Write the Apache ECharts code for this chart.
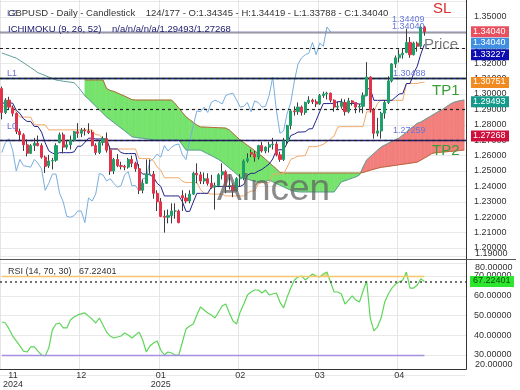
<!DOCTYPE html>
<html><head><meta charset="utf-8">
<script src="https://cdn.jsdelivr.net/npm/echarts/dist/echarts.min.js"></script>
<style>html,body{margin:0;padding:0;background:#fff;}#c{width:520px;height:390px;}</style>
</head><body><div id="c"></div>
<script>
// ---- categories (trading days) ----
const monthDays = [
  ['2024-11', [6,7,8,11,12,13,14,15,18,19,20,21,22,25,26,27,29]],
  ['2024-12', [2,3,4,5,6,9,10,11,12,13,16,17,18,19,20,23,24,26,27,30,31]],
  ['2025-01', [2,3,6,7,8,9,10,13,14,15,16,17,21,22,23,24,27,28,29,30,31]],
  ['2025-02', [3,4,5,6,7,10,11,12,13,14,18,19,20,21,24,25,26,27,28]],
  ['2025-03', [3,4,5,6,7,10,11,12,13,14,17,18,19,20,21,24,25,26,27,28,31]],
  ['2025-04', [1,2,3,4,7,8,9,10,11,14,15,16,17,22,23,24,25,28,29,30]],
  ['2025-05', [1,2,5,6,7,8,9,12,13,14]]
];
const dates = [];
monthDays.forEach(([m, ds]) => ds.forEach(d => dates.push(m + '-' + String(d).padStart(2, '0'))));

// ---- OHLC ----
const open = [1.3035,1.2880,1.2960,1.2910,1.2875,1.2757,1.2735,1.2670,1.2615,1.2665,1.2680,1.2665,1.2590,1.2535,1.2565,1.2570,1.2685,
1.2735,1.2655,1.2670,1.2700,1.2755,1.2745,1.2765,1.2760,1.2750,1.2665,1.2620,1.2685,1.2710,1.2635,1.2500,1.2575,1.2535,1.2530,1.2525,1.2575,1.2550,
1.2515,1.2375,1.2420,1.2480,1.2480,1.2355,1.2300,1.2205,1.2200,1.2210,1.2240,1.2240,1.2340,1.2325,1.2305,1.2350,1.2485,1.2475,1.2435,1.2450,1.2420,
1.2395,1.2405,1.2475,1.2495,1.2405,1.2405,1.2370,1.2450,1.2455,1.2565,1.2620,1.2610,1.2590,1.2665,1.2630,1.2655,1.2670,1.2675,1.2605,
1.2575,1.2695,1.2795,1.2890,1.2885,1.2915,1.2880,1.2945,1.2960,1.2950,1.2935,1.2990,1.3000,1.3005,1.2960,1.2915,1.2920,1.2945,1.2885,1.2955,1.2945,
1.2915,1.2920,1.2990,1.3110,1.2895,1.2745,1.2760,1.2875,1.2945,1.3085,1.3195,1.3235,1.3255,1.3270,1.3335,1.3255,1.3330,1.3310,1.34345];
const high = [1.3048,1.2973,1.2982,1.2925,1.2880,1.2775,1.2745,1.2705,1.2675,1.2715,1.2730,1.2680,1.2600,1.2605,1.2585,1.2680,1.2750,
1.2750,1.2700,1.2730,1.2760,1.2811,1.2780,1.2780,1.2810,1.2765,1.2680,1.2700,1.2725,1.2750,1.2660,1.2585,1.2610,1.2560,1.2540,1.2585,1.2600,1.2560,
1.2545,1.2445,1.2575,1.2575,1.2500,1.2375,1.2325,1.2245,1.2250,1.2290,1.2290,1.2250,1.2375,1.2355,1.2375,1.2495,1.2550,1.2495,1.2490,1.2485,1.2475,
1.2425,1.2485,1.2550,1.2505,1.2480,1.2420,1.2460,1.2480,1.2575,1.2615,1.2640,1.2630,1.2670,1.2690,1.2660,1.2690,1.2715,1.2690,1.2625,
1.2715,1.2800,1.2900,1.2920,1.2945,1.2925,1.2950,1.2985,1.2970,1.2965,1.3000,1.3015,1.3015,1.3010,1.2965,1.2950,1.2970,1.2965,1.2975,1.2960,1.2945,
1.2935,1.3010,1.3207,1.3115,1.2910,1.2845,1.2885,1.2960,1.3115,1.3200,1.3250,1.3290,1.3295,1.3425,1.3370,1.3340,1.3340,1.3445,1.34419];
const low = [1.2835,1.2870,1.2900,1.2855,1.2740,1.2700,1.2630,1.2595,1.2610,1.2630,1.2660,1.2580,1.2487,1.2520,1.2510,1.2560,1.2680,
1.2615,1.2640,1.2640,1.2690,1.2715,1.2720,1.2730,1.2740,1.2660,1.2605,1.2610,1.2665,1.2620,1.2475,1.2480,1.2525,1.2510,1.2505,1.2515,1.2525,1.2495,
1.2350,1.2355,1.2415,1.2475,1.2320,1.2240,1.2200,1.2100,1.2160,1.2160,1.2190,1.2160,1.2240,1.2290,1.2290,1.2345,1.2420,1.2415,1.2415,1.2405,1.2385,
1.2249,1.2395,1.2445,1.2355,1.2380,1.2330,1.2365,1.2400,1.2440,1.2555,1.2590,1.2560,1.2575,1.2620,1.2615,1.2620,1.2640,1.2595,1.2560,
1.2565,1.2670,1.2770,1.2860,1.2865,1.2860,1.2865,1.2935,1.2935,1.2915,1.2930,1.2975,1.2965,1.2945,1.2885,1.2900,1.2905,1.2860,1.2875,1.2925,1.2875,
1.2880,1.2875,1.2985,1.2880,1.2710,1.2725,1.2710,1.2840,1.2935,1.3075,1.3170,1.3205,1.3230,1.3265,1.3235,1.3250,1.3275,1.3300,1.33788];
const close = [1.2880,1.2960,1.2915,1.2875,1.2757,1.2735,1.2670,1.2615,1.2665,1.2680,1.2665,1.2590,1.2530,1.2565,1.2568,1.2665,1.2735,
1.2655,1.2670,1.2700,1.2755,1.2745,1.2765,1.2760,1.2750,1.2665,1.2620,1.2685,1.2710,1.2635,1.2500,1.2575,1.2535,1.2530,1.2525,1.2575,1.2550,1.2515,
1.2375,1.2420,1.2480,1.2480,1.2355,1.2300,1.2205,1.2200,1.2210,1.2240,1.2240,1.2165,1.2325,1.2305,1.2350,1.2485,1.2475,1.2435,1.2450,1.2420,1.2395,
1.2405,1.2475,1.2495,1.2405,1.2405,1.2370,1.2450,1.2455,1.2565,1.2580,1.2610,1.2590,1.2665,1.2630,1.2655,1.2670,1.2675,1.2605,1.2575,
1.2695,1.2795,1.2890,1.2885,1.2915,1.2880,1.2945,1.2960,1.2950,1.2935,1.2990,1.3000,1.3005,1.2960,1.2915,1.2920,1.2945,1.2885,1.2955,1.2945,1.2915,
1.2920,1.2990,1.3110,1.2895,1.2745,1.2760,1.2875,1.2945,1.3085,1.3195,1.3235,1.3255,1.3265,1.3335,1.3255,1.3330,1.3310,1.3435,1.34040];

// ---- Ichimoku (9, 26, 52) ----
const tenkan = [1.2941,1.2941,1.2941,1.2941,1.2894,1.2874,1.2839,1.2822,1.2822,1.2789,1.2789,1.2753,1.2684,1.2631,1.2616,1.2609,1.2619,
1.2619,1.2619,1.2619,1.2624,1.2661,1.2661,1.2686,1.2713,1.2713,1.2708,1.2708,1.2708,1.2708,1.2643,1.2643,1.2643,1.2620,1.2613,1.2613,1.2613,1.2613,
1.2505,1.2480,1.2480,1.2475,1.2460,1.2420,1.2400,1.2338,1.2338,1.2338,1.2338,1.2338,1.2300,1.2238,1.2238,1.2298,1.2355,1.2355,1.2355,1.2355,1.2395,
1.2400,1.2400,1.2400,1.2400,1.2400,1.2400,1.2400,1.2400,1.2412,1.2473,1.2485,1.2485,1.2500,1.2510,1.2528,1.2545,1.2578,1.2635,1.2638,
1.2638,1.2680,1.2730,1.2740,1.2753,1.2753,1.2755,1.2773,1.2775,1.2828,1.2885,1.2938,1.2938,1.2938,1.2940,1.2950,1.2950,1.2938,1.2938,1.2938,1.2938,
1.2935,1.2935,1.3034,1.3034,1.2959,1.2959,1.2959,1.2959,1.2959,1.2959,1.2980,1.3000,1.3003,1.3068,1.3068,1.3133,1.3180,1.3260,1.3323];
const kijun = [1.2920,1.2920,1.2920,1.2920,1.2883,1.2850,1.2850,1.2850,1.2850,1.2800,1.2800,1.2800,1.2800,
1.2767,1.2767,1.2767,1.2767,1.2767,1.2767,1.2767,1.2767,1.2767,1.2767,1.2767,1.2767,1.2767,
1.2735,1.2735,1.2706,1.2684,1.2643,1.2643,1.2643,1.2643,1.2643,1.2643,1.2643,1.2643,
1.2581,1.2581,1.2581,1.2581,1.2566,1.2526,1.2506,1.2456,1.2456,1.2456,1.2456,1.2456,1.2433,1.2425,1.2425,1.2425,1.2425,
1.2380,1.2355,1.2355,1.2350,1.2350,1.2350,1.2350,1.2338,1.2338,1.2338,1.2338,1.2338,1.2338,1.2358,1.2370,1.2370,1.2415,
1.2425,1.2425,1.2425,1.2478,1.2482,1.2482,1.2482,1.2525,1.2575,1.2585,1.2597,1.2597,1.2600,1.2658,1.2658,1.2658,1.2665,
1.2673,1.2690,1.2708,1.2728,1.2785,1.2788,1.2788,1.2788,1.2788,1.2788,1.2788,1.2788,1.2884,1.2884,1.2886,1.2939,
1.2959,1.2959,1.2959,1.2959,1.2959,1.2959,1.2959,1.3068,1.3068,1.3068,1.3068,1.3075,1.3075];
const senkouA = [1.3266,1.3258,1.3250,1.3241,1.3233,1.3218,1.3203,1.3187,1.3171,1.3156,
1.3138,1.3129,1.3120,1.3110,1.3101,1.3091,1.3087,1.3083,1.3080,1.3077,
1.3073,1.3050,1.3020,1.2988,1.2967,1.2944,1.2921,1.2898,1.2874,1.2851,
1.2833,1.2815,1.2797,1.2779,1.2761,1.2743,1.2723,1.2718,1.2715,1.2712,
1.2709,1.2706,1.2703,1.2701,1.2701,1.2701,1.2701,1.2701,1.2701,1.2701,
1.2669,1.2636,1.2636,1.2636,1.2636,1.2636,1.2624,1.2612,1.2600,1.2588,
1.2575,1.2559,1.2539,1.2520,1.2500,1.2480,1.2461,1.2454,1.2447,1.2440,
1.2433,1.2426,1.2425,1.2433,1.2441,1.2430,1.2419,1.2408,1.2397,1.2386,
1.2375,1.2369,1.2365,1.2364,1.2364,1.2364,1.2364,1.2364,1.2364,1.2364,
1.2364,1.2364,1.2364,1.2397,1.2429,1.2437,1.2445,1.2454,1.2462,1.2474,
1.2525,1.2572,1.2593,1.2614,1.2635,1.2656,1.2668,1.2680,1.2692,1.2704,
1.2714,1.2733,1.2752,1.2771,1.2790,1.2809,1.2818,1.2832,1.2846,1.2860,
1.2874,1.2888,1.2900,1.2916,1.2932,1.2945,1.2952,1.2957,1.2961];
const senkouB = [null,null,null,null,null,null,null,null,null,null,null,null,null,null,null,null,null,null,null,null,null,null,null,
1.3091,1.3091,1.3091,1.3091,1.3091,1.3091,1.3036,
1.3023,1.3017,1.3007,1.2996,1.2986,1.2975,1.2963,1.2961,1.2961,1.2961,
1.2961,1.2961,1.2961,1.2961,1.2961,1.2961,1.2961,1.2961,1.2937,1.2909,
1.2880,1.2851,1.2834,1.2816,1.2798,1.2786,1.2785,1.2784,1.2783,1.2782,
1.2781,1.2780,1.2779,1.2766,1.2744,1.2722,1.2701,1.2684,1.2667,1.2650,
1.2632,1.2612,1.2597,1.2576,1.2555,1.2534,1.2514,1.2490,1.2487,1.2487,
1.2487,1.2487,1.2487,1.2487,1.2487,1.2487,1.2487,1.2487,1.2487,1.2487,
1.2487,1.2487,1.2487,1.2487,1.2487,1.2487,1.2487,1.2487,1.2487,1.2487,
1.2490,1.2498,1.2505,1.2512,1.2518,1.2524,1.2527,1.2530,1.2534,1.2537,
1.2541,1.2544,1.2547,1.2551,1.2554,1.2558,1.2571,1.2584,1.2598,1.2613,
1.2619,1.2621,1.2623,1.2625,1.2627,1.2629,1.2631,1.2634,1.2636];

// ---- RSI (14) ----
const rsi = [46.7,46.2,43.2,39.6,37.1,34.6,32.0,31.5,34.1,34.1,32.0,30.0,29.5,33.5,42.7,45.7,46.2,43.7,43.7,47.7,
49.2,50.3,50.8,51.3,49.7,48.2,46.2,48.7,45.2,41.6,39.6,38.6,39.1,39.6,41.1,40.1,38.6,40.1,41.6,37.6,
31.5,34.6,36.1,37.1,32.5,30.0,31.5,31.0,30.0,30.0,36.6,43.2,44.7,45.7,50.3,54.3,52.8,51.3,50.3,48.7,
51.8,54.8,55.8,51.3,47.2,45.7,51.8,55.8,60.4,61.9,62.9,62.9,61.4,62.9,60.4,60.9,61.4,56.8,53.8,59.4,
63.9,68.0,69.5,70.0,68.0,69.5,71.0,70.0,69.5,71.0,72.0,67.0,61.9,61.9,60.9,55.8,57.8,59.9,57.8,56.8,
62.4,67.5,48.7,42.2,44.2,48.7,56.8,60.9,63.9,65.9,67.0,68.0,72.0,63.9,63.9,65.4,68.6,67.22401];

// ---- levels ----
const levelL2 = 1.34409, levelL1 = 1.3070, levelL0 = 1.27259, levelTP1 = 1.3104;
const lastTenkan = 1.33227, lastKijun = 1.30751, lastSpanA = 1.29493, lastSpanB = 1.27268;
const lastClose = 1.34040, lastRsi = 67.22401;
const rsiUpper = 70, rsiLower = 30;

const chikou = close.slice(26);
const candleData = open.map((o, i) => [o, close[i], low[i], high[i]]);
const bodyData = open.map((o, i) => [o, close[i], Math.min(o, close[i]), Math.max(o, close[i])]);
const lastIdx = close.length - 1;

const GREEN_CLOUD = '#76e36c', RED_CLOUD = '#f27f7c';
const chart = echarts.init(document.getElementById('c'), null, {renderer: 'canvas'});

function cloudItem(params, api) {
  const i = api.value(0);
  const a0 = senkouA[i], b0 = senkouB[i], a1 = senkouA[i + 1], b1 = senkouB[i + 1];
  const pA0 = api.coord([i, a0]), pB0 = api.coord([i, b0]), pA1 = api.coord([i + 1, a1]), pB1 = api.coord([i + 1, b1]);
  const d0 = b0 - a0, d1 = b1 - a1;
  const col = d => (d >= 0 ? GREEN_CLOUD : RED_CLOUD);
  const poly = (pts, c) => ({type: 'polygon', shape: {points: pts}, style: {fill: c, stroke: c, lineWidth: 0.6}});
  if (d0 * d1 >= 0) {
    return poly([pA0, pA1, pB1, pB0], col(d0 !== 0 ? d0 : d1));
  }
  const t = d0 / (d0 - d1);
  const m = [pA0[0] + t * (pA1[0] - pA0[0]), pA0[1] + t * (pA1[1] - pA0[1])];
  return {type: 'group', children: [poly([pA0, m, pB0], col(d0)), poly([m, pA1, pB1], col(d1))]};
}
const cloudData = [];
for (let i = 0; i < senkouA.length - 1; i++) {
  if (senkouA[i] != null && senkouB[i] != null && senkouA[i + 1] != null && senkouB[i + 1] != null) cloudData.push([i, senkouA[i], senkouB[i]]);
}

function rsiZoneItem(params, api) {
  const i = api.value(0);
  const r0 = rsi[i], r1 = rsi[i + 1];
  const p0 = api.coord([i, r0]), p1 = api.coord([i + 1, r1]);
  const out = [];
  [[rsiUpper, 1, '#f6d27a'], [rsiLower, -1, '#8f86d6']].forEach(([lv, s, c]) => {
    const e0 = (r0 - lv) * s, e1 = (r1 - lv) * s;
    const yl = api.coord([i, lv])[1];
    if (e0 <= 0 && e1 <= 0) return;
    let pts;
    if (e0 > 0 && e1 > 0) pts = [p0, p1, [p1[0], yl], [p0[0], yl]];
    else {
      const t = e0 / (e0 - e1);
      const xm = p0[0] + t * (p1[0] - p0[0]);
      pts = e0 > 0 ? [p0, [xm, yl], [p0[0], yl]] : [[xm, yl], p1, [p1[0], yl]];
    }
    out.push({type: 'polygon', shape: {points: pts}, style: {fill: c, opacity: 0.85}});
  });
  return {type: 'group', children: out};
}
const rsiSegs = rsi.slice(0, -1).map((v, i) => [i, v]);

const FONT = 'Liberation Sans, Arial, sans-serif';
const monthLabel = (v, idx) => {
  if (idx === 0) return '';
  const y = v.slice(0, 4), m = v.slice(5, 7);
  return m === '01' ? m + '\n' + y : m;
};
const is = (a, b) => Math.abs(a - b) < 1e-7;
const UP = '#1fa06a', DOWN = '#e2334a', WICK = '#3c3c3c';

const option = {
  animation: false,
  backgroundColor: '#fff',
  textStyle: {fontFamily: FONT},
  grid: [
    {left: 0, right: 54, top: 1.6, height: 261.8, outerBoundsMode: 'none', containLabel: false},
    {left: 0, right: 54, top: 256.25, height: 118.5, outerBoundsMode: 'none', containLabel: false},
    {left: 0, right: 54, top: 0, height: 369, outerBoundsMode: 'none', containLabel: false}
  ],
  xAxis: [
    {type: 'category', gridIndex: 0, data: dates, boundaryGap: true,
     axisLine: {show: false}, axisTick: {show: false}, axisLabel: {show: false}, splitLine: {show: false}},
    {type: 'category', gridIndex: 1, data: dates, boundaryGap: true, offset: -5.75,
     axisLine: {show: false}, axisTick: {show: false}, splitLine: {show: false},
     axisLabel: {interval: i => i % 22 === 0, formatter: monthLabel, fontSize: 9, color: '#333',
                 lineHeight: 9, margin: 2, fontFamily: FONT, hideOverlap: false}},
    {type: 'category', gridIndex: 2, data: dates, boundaryGap: true,
     axisLine: {show: false}, axisTick: {show: false}, axisLabel: {show: false},
     splitLine: {show: true, interval: i => i % 22 === 0, lineStyle: {color: '#e4e4e4', width: 1}}}
  ],
  yAxis: [
    {type: 'value', gridIndex: 0, position: 'right', min: 1.19, max: 1.36, interval: 0.01,
     axisLine: {show: false}, axisTick: {show: false},
     axisLabel: {fontSize: 9, color: '#333', margin: 8, fontFamily: FONT,
       formatter: v => (is(v, 1.19) || is(v, 1.36)) ? '' : v.toFixed(5)},
     splitLine: {show: true, lineStyle: {color: '#e9e9e9', width: 1}}},
    {type: 'value', gridIndex: 1, position: 'right', min: 20, max: 80, interval: 10,
     axisLine: {show: false}, axisTick: {show: false},
     axisLabel: {fontSize: 9, color: '#333', margin: 8, fontFamily: FONT,
       formatter: v => (v === 20 || v === 80) ? '' : v.toFixed(5)},
     splitLine: {show: true, lineStyle: {color: '#e9e9e9', width: 1}}},
    {type: 'value', gridIndex: 2, show: false, min: 0, max: 1}
  ],
  series: [
    {type: 'line', xAxisIndex: 2, yAxisIndex: 2, data: [], silent: true},
    {type: 'custom', name: 'cloud', xAxisIndex: 0, yAxisIndex: 0, data: cloudData, renderItem: cloudItem, z: 1, silent: true, clip: true},
    {type: 'line', name: 'SpanA', xAxisIndex: 0, yAxisIndex: 0, data: senkouA, showSymbol: false, z: 2,
     lineStyle: {color: '#5f9e9a', width: 1}},
    {type: 'line', name: 'SpanB', xAxisIndex: 0, yAxisIndex: 0, data: senkouB, showSymbol: false, z: 2,
     lineStyle: {color: '#b8683c', width: 1}},
    {type: 'line', name: 'Chikou', xAxisIndex: 0, yAxisIndex: 0, data: chikou, showSymbol: false, z: 3,
     lineStyle: {color: '#78aee0', width: 1}},
    {type: 'line', name: 'Kijun', xAxisIndex: 0, yAxisIndex: 0, data: kijun, showSymbol: false, z: 3,
     lineStyle: {color: '#f2a868', width: 1}},
    {type: 'line', name: 'Tenkan', xAxisIndex: 0, yAxisIndex: 0, data: tenkan, showSymbol: false, z: 3,
     lineStyle: {color: '#22228c', width: 1}},
    {type: 'candlestick', name: 'wicks', xAxisIndex: 0, yAxisIndex: 0, data: candleData, barWidth: 0.8, z: 5, silent: true,
     itemStyle: {color: WICK, color0: WICK, borderColor: WICK, borderColor0: WICK, borderWidth: 1}},
    {type: 'candlestick', name: 'bodies', xAxisIndex: 0, yAxisIndex: 0, data: bodyData, barWidth: 2.6, z: 6,
     itemStyle: {color: UP, color0: DOWN, borderColor: UP, borderColor0: DOWN, borderWidth: 1},
     markLine: {symbol: 'none', silent: true, animation: false, label: {show: false},
       data: [
         {yAxis: levelL2, lineStyle: {color: '#1d1d7c', width: 1.3, type: 'solid'}},
         {yAxis: lastClose, lineStyle: {color: '#9a9a9a', width: 1, type: 'solid'}},
         {yAxis: lastTenkan, lineStyle: {color: '#222', width: 1.2, type: [3, 3]}},
         {yAxis: levelTP1, lineStyle: {color: '#2c8c2c', width: 1.3, type: 'solid'}},
         {yAxis: levelL1, lineStyle: {color: '#1d1d7c', width: 1.3, type: 'solid'}},
         {yAxis: lastKijun, lineStyle: {color: '#222', width: 1.2, type: [3, 3]}},
         {yAxis: lastSpanA, lineStyle: {color: '#222', width: 1.2, type: [3, 3]}},
         {yAxis: levelL0, lineStyle: {color: '#1d1d7c', width: 1.3, type: 'solid'}},
         {yAxis: lastSpanB, lineStyle: {color: '#222', width: 1.2, type: [3, 3]}}
       ]}},
    {type: 'custom', name: 'rsiZones', xAxisIndex: 1, yAxisIndex: 1, data: rsiSegs, renderItem: rsiZoneItem, z: 2, silent: true},
    {type: 'line', name: 'RSI', xAxisIndex: 1, yAxisIndex: 1, data: rsi, showSymbol: false, z: 4,
     lineStyle: {color: '#5fd65a', width: 1.2},
     markLine: {symbol: 'none', silent: true, animation: false, label: {show: false},
       data: [
         [{coord: [0, rsiUpper]}, {coord: [lastIdx, rsiUpper], lineStyle: {color: '#f5c66e', width: 1.3, type: 'solid'}}],
         [{coord: [0, rsiLower]}, {coord: [lastIdx, rsiLower], lineStyle: {color: '#a58fe0', width: 1.3, type: 'solid'}}],
         {yAxis: lastRsi, lineStyle: {color: '#444', width: 1.5, type: [2, 3]}}
       ]}}
  ]
};
chart.setOption(option);

// ---- annotations and price tags ----
const yP = v => chart.convertToPixel({yAxisIndex: 0}, v);
const yR = v => chart.convertToPixel({yAxisIndex: 1}, v);
const tags = [
  {v: lastClose, text: '1.34040', bg: '#e8505f', fg: '#fff'},
  {v: lastClose, text: '1.34040', bg: '#3f8fe2', fg: '#fff'},
  {v: lastTenkan, text: '1.33227', bg: '#0c0cb0', fg: '#fff'},
  {v: lastKijun, text: '1.30751', bg: '#f28a22', fg: '#fff'},
  {v: lastSpanA, text: '1.29493', bg: '#139a8a', fg: '#fff'},
  {v: lastSpanB, text: '1.27268', bg: '#d0103c', fg: '#fff'}
];
let prev = -1e9;
const gfx = [];
tags.forEach(t => {
  let y = yP(t.v);
  if (y < prev + 11.5) y = prev + 11.5;
  prev = y;
  gfx.push({type: 'rect', left: 471, top: y - 5.5, shape: {width: 38, height: 11}, style: {fill: t.bg}, z: 50});
  gfx.push({type: 'text', left: 473, top: y - 5, style: {text: t.text, fill: t.fg, font: '9px ' + FONT}, z: 51});
});
const yr = yR(lastRsi);
gfx.push({type: 'rect', left: 470, top: yr - 5.5, shape: {width: 44, height: 11}, style: {fill: '#2ee62e'}, z: 50});
gfx.push({type: 'text', left: 473, top: yr - 5, style: {text: '67.22401', fill: '#0b4d0b', font: '9px ' + FONT}, z: 51});

const txt = (x, y, s, color, size, extra) => Object.assign({type: 'text', left: x, top: y,
  style: {text: s, fill: color, font: size + 'px ' + FONT}, z: 40}, extra || {});
gfx.push(txt(475, 249, '1.19000', '#333', 9));
gfx.push(txt(475, 263, '80.00000', '#333', 9));
gfx.push(txt(475, 360, '20.00000', '#333', 9));
gfx.push({type: 'text', x: 13, y: 371, style: {text: '11\n2024', fill: '#333', font: '9px ' + FONT,
  align: 'center', verticalAlign: 'top', lineHeight: 9}, z: 40});
// frame lines
gfx.push({type: 'line', shape: {x1: 466.5, y1: 0, x2: 466.5, y2: 369.5}, style: {stroke: '#333', lineWidth: 1}, z: 30});
gfx.push({type: 'line', shape: {x1: 0, y1: 369.5, x2: 466.5, y2: 369.5}, style: {stroke: '#333', lineWidth: 1}, z: 30});
gfx.push({type: 'line', shape: {x1: 0, y1: 259.5, x2: 516, y2: 259.5}, style: {stroke: '#555', lineWidth: 1}, z: 30});
// labels
gfx.push(txt(7, 9, 'L2', '#7070c8', 9));
gfx.push(txt(7, yP(levelL1) - 14, 'L1', '#7070c8', 9));
gfx.push(txt(7, yP(levelL0) - 14, 'L0', '#7070c8', 9));
gfx.push(txt(8, 8, 'GBPUSD - Daily - Candlestick    124/177 - O:1.34345 - H:1.34419 - L:1.33788 - C:1.34040', '#333', 9.5));
gfx.push(txt(8, 24, 'ICHIMOKU (9, 26, 52)    n/a/n/a/n/a/1.29493/1.27268', '#1b1b6c', 9.5));
gfx.push(txt(392, yP(levelL2) - 11, '1.34409', '#6676dc', 9));
gfx.push(txt(392, yP(levelL2) - 4, '1.34040', '#6676dc', 9));
gfx.push(txt(393, yP(levelL1) - 14, '1.30488', '#6676dc', 9));
gfx.push(txt(393, yP(levelL0) - 10, '1.27259', '#6676dc', 9));
gfx.push(txt(433, 1, 'SL', '#dd2c2c', 15));
gfx.push(txt(424, 37, 'Price', '#7a7a7a', 15));
gfx.push(txt(432, 83, 'TP1', '#36a036', 15));
gfx.push(txt(432, 143, 'TP2', '#36a036', 15));
gfx.push(txt(217, 171, 'Alncen', 'rgba(100,100,100,0.75)', 37));
gfx.push(txt(8, 267, 'RSI (14, 70, 30)   67.22401', '#333', 9));
chart.setOption({graphic: gfx});
</script>
</body></html>
